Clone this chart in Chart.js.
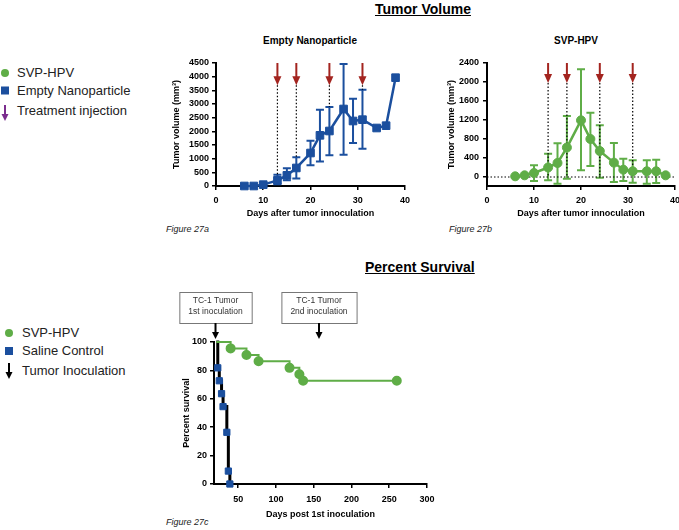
<!DOCTYPE html>
<html>
<head>
<meta charset="utf-8">
<script src="https://cdn.jsdelivr.net/npm/chart.js@4.4.1/dist/chart.umd.min.js"></script>
<style>
  html, body { margin: 0; padding: 0; width: 679px; height: 530px; overflow: hidden; background: #fff;
    font-family: "Liberation Sans", Arial, sans-serif; color: #000; }
  .abs { position: absolute; white-space: nowrap; }
  .big { font-weight: bold; font-size: 14px; line-height: 16px; text-decoration: underline; }
  .sub { font-weight: bold; font-size: 10px; line-height: 12px; transform: translateX(-50%); }
  .fig { font-style: italic; font-size: 9px; line-height: 10px; color: #222; }
  .leg { font-size: 13px; line-height: 14px; color: #222; }
  canvas { position: absolute; }
</style>
</head>
<body>
<div class="abs big" style="left:375px; top:1px;">Tumor Volume</div>
<div class="abs big" style="left:365px; top:259px;">Percent Survival</div>
<div class="abs sub" style="left:310px; top:35px;">Empty Nanoparticle</div>
<div class="abs sub" style="left:576px; top:35px;">SVP-HPV</div>
<div class="abs fig" style="left:166px; top:224px;">Figure 27a</div>
<div class="abs fig" style="left:449px; top:224px;">Figure 27b</div>
<div class="abs fig" style="left:166px; top:517px;">Figure 27c</div>

<!-- legend, top -->
<svg class="abs" style="left:0; top:60px;" width="14" height="64">
  <circle cx="5" cy="13" r="4" fill="#5fad47"/>
  <rect x="1" y="26.5" width="8" height="8" fill="#1b4f9e"/>
  <line x1="5" y1="45" x2="5" y2="56" stroke="#7b2d8e" stroke-width="2"/>
  <polygon points="1.5,54 8.5,54 5,61" fill="#7b2d8e"/>
</svg>
<div class="abs leg" style="left:17px; top:66px;">SVP-HPV</div>
<div class="abs leg" style="left:17px; top:84px;">Empty Nanoparticle</div>
<div class="abs leg" style="left:17px; top:104px;">Treatment injection</div>

<!-- legend, bottom -->
<svg class="abs" style="left:0; top:320px;" width="16" height="64">
  <circle cx="9" cy="13" r="4" fill="#5fad47"/>
  <rect x="5" y="27" width="8" height="8" fill="#1b4f9e"/>
  <line x1="9" y1="43" x2="9" y2="54" stroke="#000" stroke-width="2"/>
  <polygon points="5.5,52 12.5,52 9,59" fill="#000"/>
</svg>
<div class="abs leg" style="left:22px; top:326px;">SVP-HPV</div>
<div class="abs leg" style="left:22px; top:344px;">Saline Control</div>
<div class="abs leg" style="left:22px; top:364px;">Tumor Inoculation</div>

<canvas id="empty" width="265" height="170" style="left:150px; top:50px;"></canvas>
<canvas id="svp" width="270" height="170" style="left:420px; top:50px;"></canvas>
<canvas id="survival" width="295" height="242" style="left:150px; top:288px;"></canvas>

<script>
const FONT = '"Liberation Sans", Arial, sans-serif'
const BLUE = '#1b4f9e'
const GREEN = '#5fad47'
const RED = '#a3241f'

// tumor volume, days after inoculation
const days = [6, 8, 10, 13, 15, 17, 20, 22, 24, 27, 29, 31, 34, 36, 38]
const emptyMean = [0, 0, 50, 207, 390, 660, 1207, 1854, 2012, 2817, 2378, 2427, 2122, 2207, 3963]
const emptyHigh = [null, null, null, 415, 646, 1050, 1660, 2793, 2890, 4463, 3195, 3524, null, null, null]
const emptyLow = [null, null, null, 60, 207, 270, 756, 900, 1122, 1146, 1573, 1366, null, null, null]
const svpMean = [14, 35, 84, 200, 295, 620, 1193, 800, 547, 302, 154, 120, 120, 120, 35]
const svpHigh = [null, null, 245, 490, 710, 1285, 2267, 1355, 1088, 716, 386, 350, 350, 365, null]
const svpLow = [null, null, -84, -70, -140, -35, 140, 232, -14, -105, -84, -120, -140, -126, null]
const injectionDays = [13, 17, 24, 31]
const emptyTicksY = [0, 500, 1000, 1500, 2000, 2500, 3000, 3500, 4000, 4500]
const svpTicksY = [0, 400, 800, 1200, 1600, 2000, 2400]
const volumeTicksX = [0, 10, 20, 30, 40]

// survival
const svpSurvDays = [21, 40, 61, 77, 118, 131, 136, 260]
const svpSurv = [100, 95.5, 90.9, 86.4, 81.8, 77.3, 72.7, 72.7]
const salineDays = [21, 23, 25, 28, 30, 35, 37, 39]
const salineSurv = [100, 81.8, 72.7, 63.6, 54.5, 36.4, 9.1, 0]
const inoculationDays = [20, 157]
const inoculationLabels = [['TC-1 Tumor', '1st inoculation'], ['TC-1 Tumor', '2nd inoculation']]
const survTicksX = [50, 100, 150, 200, 250, 300]
const survTicksY = [0, 20, 40, 60, 80, 100]

const tickFont = { family: FONT, size: 9, weight: 'bold' }

const errorBars = {
  id: 'errorBars',
  beforeDatasetsDraw: (chart) => {
    const ctx = chart.ctx
    const y = chart.scales.y
    chart.data.datasets.forEach((ds, di) => {
      if (!ds.errHigh) return
      chart.getDatasetMeta(di).data.forEach((pt, i) => {
        if (ds.errHigh[i] == null) return
        const top = y.getPixelForValue(ds.errHigh[i])
        const bot = y.getPixelForValue(ds.errLow[i])
        ctx.save()
        ctx.strokeStyle = ds.borderColor
        ctx.lineWidth = 2
        ctx.beginPath()
        ctx.moveTo(pt.x, top); ctx.lineTo(pt.x, bot)
        ctx.moveTo(pt.x - 4, top); ctx.lineTo(pt.x + 4, top)
        ctx.moveTo(pt.x - 4, bot); ctx.lineTo(pt.x + 4, bot)
        ctx.stroke()
        ctx.restore()
      })
    })
  }
}

// red arrows with dotted drop lines
const injections = {
  id: 'injections',
  beforeDatasetsDraw: (chart, args, opts) => {
    const { ctx, chartArea, scales: { x, y } } = chart
    if (opts.zeroLine) {
      const y0 = y.getPixelForValue(0)
      ctx.save()
      ctx.setLineDash([1.5, 2])
      ctx.strokeStyle = '#000'
      ctx.lineWidth = 1.2
      ctx.beginPath(); ctx.moveTo(chartArea.left, y0); ctx.lineTo(chartArea.right, y0); ctx.stroke()
      ctx.restore()
    }
    opts.days.forEach((d, i) => {
      const px = x.getPixelForValue(d)
      const tip = y.getPixelForValue(opts.tip)
      const end = y.getPixelForValue(opts.ends[i])
      ctx.save()
      ctx.setLineDash([1.5, 2])
      ctx.strokeStyle = '#000'
      ctx.lineWidth = 1.2
      ctx.beginPath(); ctx.moveTo(px, tip); ctx.lineTo(px, end); ctx.stroke()
      ctx.restore()
      ctx.save()
      ctx.strokeStyle = RED
      ctx.fillStyle = RED
      ctx.lineWidth = 2
      ctx.beginPath(); ctx.moveTo(px, chartArea.top); ctx.lineTo(px, tip - 7); ctx.stroke()
      ctx.beginPath(); ctx.moveTo(px - 4, tip - 9); ctx.lineTo(px + 4, tip - 9); ctx.lineTo(px, tip); ctx.closePath(); ctx.fill()
      ctx.restore()
    })
  }
}

// boxes + black arrows over survival chart
const inoculations = {
  id: 'inoculations',
  afterDraw: (chart, args, opts) => {
    const { ctx, chartArea, scales: { x } } = chart
    opts.days.forEach((d, i) => {
      const px = x.getPixelForValue(d)
      const lines = opts.labels[i]
      ctx.save()
      ctx.font = '8.5px ' + FONT
      const w = Math.max(...lines.map(l => ctx.measureText(l).width)) + 18
      const top = chartArea.top - 50
      const h = 31
      ctx.fillStyle = '#fff'
      ctx.strokeStyle = '#777'
      ctx.lineWidth = 1
      ctx.fillRect(px - w / 2, top, w, h)
      ctx.strokeRect(px - w / 2 + 0.5, top + 0.5, w, h)
      ctx.fillStyle = '#333'
      ctx.textAlign = 'center'
      ctx.textBaseline = 'middle'
      ctx.fillText(lines[0], px, top + 9)
      ctx.fillText(lines[1], px, top + 20)
      ctx.strokeStyle = '#000'
      ctx.fillStyle = '#000'
      ctx.lineWidth = 2
      ctx.beginPath(); ctx.moveTo(px, top + h); ctx.lineTo(px, chartArea.top - 8); ctx.stroke()
      ctx.beginPath(); ctx.moveTo(px - 3.5, chartArea.top - 10); ctx.lineTo(px + 3.5, chartArea.top - 10); ctx.lineTo(px, chartArea.top - 3); ctx.closePath(); ctx.fill()
      ctx.restore()
    })
  }
}

const gridOpts = (len) => ({ drawOnChartArea: false, drawTicks: true, tickLength: len, color: '#000', lineWidth: 1.5 })
const borderOpts = { color: '#000', width: 2 }
const plainLabel = (v) => String(v)

const xAxis = (min, max, ticks, title, height, pad, titlePad) => ({
  type: 'linear', min: min, max: max,
  afterBuildTicks: (s) => { s.ticks = ticks.map(v => ({ value: v })) },
  afterFit: (s) => { s.height = height },
  ticks: { font: tickFont, color: '#000', padding: pad, maxRotation: 0, autoSkip: false, callback: plainLabel },
  grid: gridOpts(4), border: borderOpts,
  title: { display: true, text: title, font: tickFont, color: '#000', padding: { top: 0, bottom: titlePad } }
})

const yAxis = (min, max, ticks, title, width, titlePad) => ({
  type: 'linear', min: min, max: max,
  afterBuildTicks: (s) => { s.ticks = ticks.map(v => ({ value: v })) },
  afterFit: (s) => { s.width = width },
  ticks: { font: tickFont, color: '#000', padding: 3, autoSkip: false, callback: plainLabel },
  grid: gridOpts(4), border: borderOpts,
  title: { display: true, text: title, font: tickFont, color: '#000', padding: { top: titlePad, bottom: 0 } }
})

const baseOptions = (padding) => ({
  responsive: false,
  animation: false,
  devicePixelRatio: 1,
  layout: { padding: padding },
  plugins: { legend: { display: false }, tooltip: { enabled: false } }
})

const volumeDataset = (means, high, low, color, style, radius) => ({
  data: days.map((d, i) => ({ x: d, y: means[i] })),
  errHigh: high, errLow: low,
  borderColor: color, backgroundColor: color,
  borderWidth: 2.5,
  pointStyle: style, pointRadius: radius, pointBackgroundColor: color, pointBorderColor: color, pointBorderWidth: 1,
  clip: false
})

// Figure 27a
const emptyOpts = baseOptions({ top: 13, right: 10, left: 0, bottom: 0 })
emptyOpts.scales = {
  x: xAxis(0, 40, volumeTicksX, 'Days after tumor innoculation', 34, 5, 1),
  y: yAxis(0, 4500, emptyTicksY, 'Tumor volume (mm\u00B3)', 66, 21)
}
emptyOpts.plugins.injections = {
  days: injectionDays, tip: 3683,
  ends: injectionDays.map(d => emptyHigh[days.indexOf(d)])
}
new Chart(document.getElementById('empty'), {
  type: 'line',
  data: { datasets: [volumeDataset(emptyMean, emptyHigh, emptyLow, BLUE, 'rect', 5.4)] },
  options: emptyOpts,
  plugins: [errorBars, injections]
})

// Figure 27b
const svpOpts = baseOptions({ top: 13, right: 15, left: 0, bottom: 0 })
svpOpts.scales = {
  x: xAxis(0, 40, volumeTicksX, 'Days after tumor innoculation', 34, 5, 1),
  y: yAxis(-190, 2400, svpTicksY, 'Tumor volume (mm\u00B3)', 67, 26)
}
svpOpts.scales.y.ticks.padding = 4
svpOpts.plugins.injections = {
  days: injectionDays, tip: 1979, zeroLine: true,
  ends: injectionDays.map(() => 0)
}
new Chart(document.getElementById('svp'), {
  type: 'line',
  data: { datasets: [volumeDataset(svpMean, svpHigh, svpLow, GREEN, 'circle', 4.5)] },
  options: svpOpts,
  plugins: [errorBars, injections]
})

// Figure 27c
const survOpts = baseOptions({ top: 54, right: 18, left: 0, bottom: 0 })
survOpts.scales = {
  x: xAxis(18, 300, survTicksX, 'Days post 1st inoculation', 46, 6, 10),
  y: yAxis(0, 100, survTicksY, 'Percent survival', 64, 31)
}
survOpts.plugins.inoculations = { days: inoculationDays, labels: inoculationLabels }
new Chart(document.getElementById('survival'), {
  type: 'line',
  data: {
    datasets: [
      {
        data: svpSurvDays.map((d, i) => ({ x: d, y: svpSurv[i] })),
        stepped: 'before',
        borderColor: GREEN, borderWidth: 2,
        pointStyle: 'circle',
        pointRadius: svpSurvDays.map((d, i) => i === 0 ? 0 : 4),
        pointBackgroundColor: GREEN, pointBorderColor: GREEN,
        clip: false
      },
      {
        data: salineDays.map((d, i) => ({ x: d, y: salineSurv[i] })),
        stepped: 'before',
        borderColor: '#000', borderWidth: 3,
        pointStyle: 'rect',
        pointRadius: salineDays.map((d, i) => i === 0 ? 0 : 4.4),
        pointBackgroundColor: BLUE, pointBorderColor: BLUE, pointBorderWidth: 1,
        clip: false
      }
    ]
  },
  options: survOpts,
  plugins: [inoculations]
})
</script>
</body>
</html>
